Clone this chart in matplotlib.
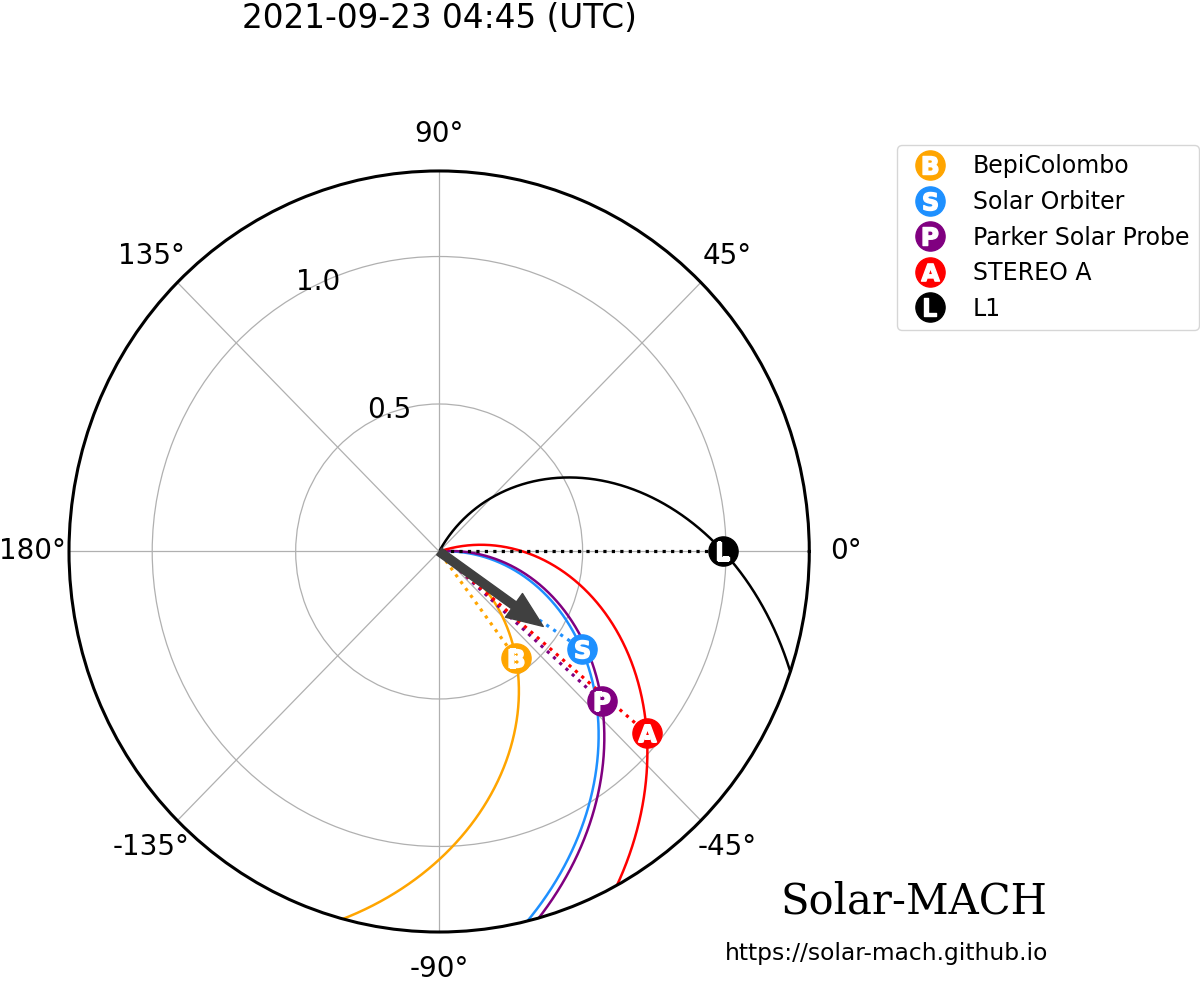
import numpy as np
import matplotlib
matplotlib.use("Agg")
import matplotlib.pyplot as plt
from matplotlib.lines import Line2D
from matplotlib.legend_handler import HandlerTuple

# ---- data ----
title_text = "2021-09-23 04:45 (UTC)"
body_names = ["BepiColombo", "Solar Orbiter", "Parker Solar Probe", "STEREO A", "L1"]
body_letters = ["B", "S", "P", "A", "L"]
body_colors = ["orange", "dodgerblue", "purple", "red", "black"]
body_lon_deg = [-53.5, -33.65, -41.9, -40.4, 0.0]
body_dist_au = [0.450, 0.597, 0.761, 0.950, 0.990]
body_vsw_kms = [400, 400, 400, 400, 400]
reference_lon_deg = -35.0
reference_arrow_tip_au = 0.443
theta_tick_deg = [0, 45, 90, 135, 180, 225, 270, 315]
theta_tick_labels = ["0°", "45°", "90°", "135°", "180°", "-135°", "-90°", "-45°"]
r_ticks = [0.5, 1.0]
r_tick_labels = ["0.5", "1.0"]

AU_KM = 1.495978707e8
OMEGA = 2 * np.pi / (25.38 * 24 * 3600)  # solar rotation rate (rad/s)
rmax = max(body_dist_au) + 0.3

fig = plt.figure(figsize=(12, 9.82), dpi=100)
ax = fig.add_axes([0.0575, 0.0509, 0.6169, 0.775], projection="polar")
ax.set_aspect("auto")

r_array = np.arange(0.007, rmax + 3.0, 0.001)
for name, c, lon, dist, vsw in zip(body_names, body_colors, body_lon_deg, body_dist_au, body_vsw_kms):
    # Parker spiral through the body
    alpha = np.deg2rad(lon) + OMEGA / (vsw / AU_KM) * (dist - r_array)
    ax.plot(alpha, r_array, color=c, lw=1.8, zorder=2)
    # Sun-body line
    ax.plot([np.deg2rad(lon), np.deg2rad(lon)], [0.01, dist], ":", color=c, lw=2.3, zorder=3)

MS_CIRCLE = 21
MS_LETTER = 13
handles = []
for name, c, letter, lon, dist in zip(body_names, body_colors, body_letters, body_lon_deg, body_dist_au):
    ax.plot(np.deg2rad(lon), dist, "o", ms=MS_CIRCLE, color=c, zorder=6)
    ax.plot(np.deg2rad(lon), dist, marker=f"$\\mathbf{{{letter}}}$", ms=MS_LETTER, color="white",
            ls="none", zorder=7)
    h1 = Line2D([], [], marker="o", ms=MS_CIRCLE, color=c, ls="none")
    h2 = Line2D([], [], marker=f"$\\mathbf{{{letter}}}$", ms=MS_LETTER, color="white", ls="none")
    handles.append((h1, h2))

# reference longitude arrow
ax.annotate("", xy=(np.deg2rad(reference_lon_deg), reference_arrow_tip_au),
            xytext=(np.deg2rad(reference_lon_deg), 0.0),
            arrowprops=dict(arrowstyle="simple,head_length=26,head_width=21,tail_width=6",
                            mutation_scale=1, color="#404040", shrinkA=0, shrinkB=0),
            zorder=5)

ax.set_rmin(0)
ax.set_rmax(rmax)
ax.set_thetagrids(theta_tick_deg, labels=theta_tick_labels, fontsize=20)
ax.set_rgrids(r_ticks, labels=r_tick_labels, angle=120, fontsize=20)
ax.tick_params(axis="x", pad=16)
ax.spines["polar"].set_linewidth(2.2)
ax.grid(True, color="#b0b0b0", lw=0.9)

fig.legend(handles=handles, labels=body_names, loc="upper left",
           bbox_to_anchor=(0.7475, 0.8523), bbox_transform=fig.transFigure,
           borderaxespad=0, fontsize=17, numpoints=1, labelspacing=0.49,
           handler_map={tuple: HandlerTuple(ndivide=1)})

fig.text(0.366, 1 - 28 / 982, title_text, ha="center", va="baseline", fontsize=23.5)
fig.text(0.8725, 1 - 914 / 982, "Solar-MACH", ha="right", va="baseline",
         fontsize=30, family="DejaVu Serif")
fig.text(0.8733, 1 - 960 / 982, "https://solar-mach.github.io", ha="right", va="baseline",
         fontsize=16.8)

fig.savefig("out.png", dpi=100)
